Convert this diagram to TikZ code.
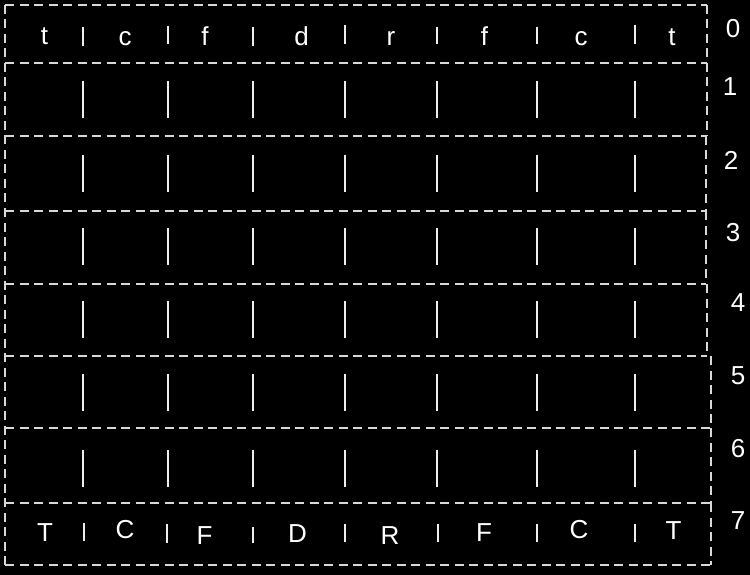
\documentclass[tikz,border=0pt]{standalone}
\usepackage{fontspec}
\setmainfont{Liberation Sans}
\definecolor{linecol}{HTML}{D8D8D8}
\definecolor{barcol}{HTML}{EEEEEE}
\begin{document}
\begin{tikzpicture}[x=1pt,y=-1pt,
  rowbox/.style={draw=none, inner sep=0pt, outer sep=0pt, anchor=north west},
  dashline/.style={draw=linecol, line width=1.6pt, dash pattern=on 9pt off 5.5pt},
  barline/.style={draw=barcol, line width=1.7pt},
  lbl/.style={text=white, font=\fontsize{26}{26}\selectfont, inner sep=0pt, anchor=base},
  num/.style={text=white, font=\fontsize{26}{26}\selectfont, inner sep=0pt}]
\fill[black] (0,0) rectangle (750,575);
\useasboundingbox (0,0) rectangle (750,575);
% rows
\node[rowbox, minimum width=702pt, minimum height=58pt] (r0) at (5,5) {};
\node[rowbox, minimum width=702pt, minimum height=73pt] (r1) at (5,63) {};
\node[rowbox, minimum width=701pt, minimum height=75pt] (r2) at (5,136) {};
\node[rowbox, minimum width=701pt, minimum height=73pt] (r3) at (5,211) {};
\node[rowbox, minimum width=702pt, minimum height=72pt] (r4) at (5,284) {};
\node[rowbox, minimum width=706pt, minimum height=72pt] (r5) at (5,356) {};
\node[rowbox, minimum width=706pt, minimum height=75pt] (r6) at (5,428) {};
\node[rowbox, minimum width=706pt, minimum height=62pt] (r7) at (5,503) {};
% dashed borders
\draw[dashline] (r0.north west) -- (r0.north east);
\foreach \k in {0,...,7} {
  \draw[dashline] (r\k.south west) -- (r\k.south east);
  \draw[dashline] (r\k.north east) -- (r\k.south east);
}
\draw[dashline] (r0.north west) -- (r7.south west);
% row 0 small bars
\foreach \x/\a/\b in {83/27/46, 168/26/44, 253/27/46, 345/25/44, 437/27/44, 537/27/44, 635/25/44}
  \draw[barline] (\x,\a) -- (\x,\b);
% row 7 small bars
\foreach \x/\a/\b in {84/523/541, 167/524/543, 253/527/543, 345/524/542, 438/524/542, 537/524/542, 635/524/542}
  \draw[barline] (\x,\a) -- (\x,\b);
% rows 1-6 long bars
\foreach \a/\b in {81/118, 155/192, 228/265, 301/338, 374/411, 450/487}
  \foreach \x in {83, 168, 253, 345, 437, 537, 635}
    \draw[barline] (\x,\a) -- (\x,\b);
% top letters
\foreach \x/\y/\t [count=\i] in {44.5/45/t, 125/46/c, 205/46/f, 301.5/46/d, 391/46/r, 484.5/46/f, 581/46/c, 672/46/t}
  \node[lbl] (top\i) at (\x,\y) {\t};
% bottom letters
\foreach \x/\y/\t [count=\i] in {45/541/T, 125/538/C, 204.5/544/F, 297.5/542/D, 390/544/R, 484/541/F, 579/538/C, 673.5/539/T}
  \node[lbl] (bot\i) at (\x,\y) {\t};
% row numbers
\foreach \x/\y/\t in {733/29/0, 730/87/1, 731/160/2, 733/233/3, 738/303/4, 738/376/5, 738/449/6, 738/521/7}
  \node[num] (n\t) at (\x,\y) {\t};
\end{tikzpicture}
\end{document}
